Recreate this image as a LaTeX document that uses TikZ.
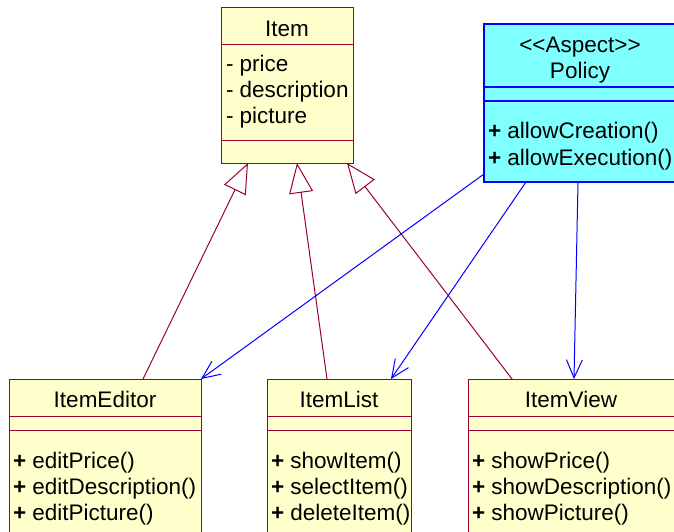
\documentclass[tikz,border=0pt]{standalone}
\usepackage{fontspec}
\setmainfont{Liberation Sans}
\usetikzlibrary{arrows.meta}

\begin{document}
\begin{tikzpicture}[x=1pt,y=-1pt,line cap=rect]
\useasboundingbox (0,0) rectangle (674,532);
\clip (0,0) rectangle (674,532);
\definecolor{custcol_99_0_33}{RGB}{153, 0, 51}
\definecolor{custcol_ff_ff_cc}{RGB}{255, 255, 204}
\definecolor{custcol_80_ff_ff}{RGB}{128, 255, 255}
\definecolor{custcol_0_0_ff}{RGB}{0, 0, 255}
\tikzset{
  clsbox/.style={draw=custcol_99_0_33, fill=custcol_ff_ff_cc, line width=1.0pt, inner sep=0, outer sep=0, anchor=north west},
  aspbox/.style={clsbox, draw=custcol_0_0_ff, fill=custcol_80_ff_ff, line width=1.5pt},
  clstext/.style={inner sep=0, outer sep=0, black, anchor=base west, font=\fontsize{22.5pt}{22.5pt}\selectfont},
  clsname/.style={clstext, anchor=base},
  inherit/.style={line width=1.0pt, custcol_99_0_33, -{Triangle[open, length=30pt, width=24pt]}},
  depend/.style={line width=1.0pt, custcol_0_0_ff, -{Straight Barb[length=18pt, width=16pt]}},
}
% Item
\node[clsbox, minimum width=132pt, minimum height=37pt] (itemhead) at (221,8) {};
\node[clsbox, minimum width=132pt, minimum height=95pt] (itemattr) at (221,45) {};
\node[clsbox, minimum width=132pt, minimum height=23pt] (itemops) at (221,140) {};
\node[clsname] (itemname) at (287,37) {Item};
\node[clstext] (itemprice) at (226,72) {- price};
\node[clstext] (itemdesc) at (226,98) {- description};
\node[clstext] (itempic) at (226,124) {- picture};
% Policy
\node[aspbox, minimum width=192pt, minimum height=63pt] (policyhead) at (484,24) {};
\node[aspbox, minimum width=192pt, minimum height=14pt] (policyattr) at (484,87) {};
\node[aspbox, minimum width=192pt, minimum height=81pt] (policyops) at (484,101) {};
\node[clsname] (policystereo) at (580,53) {<\kern0pt<Aspect>\kern0pt>};
\node[clsname] (policyname) at (580,79) {Policy};
\node[clstext] (policycreate) at (488,139) {\textbf{+} allowCreation()};
\node[clstext] (policyexec) at (488,165) {\textbf{+} allowExecution()};
% ItemEditor
\node[clsbox, minimum width=192pt, minimum height=37pt] (editorhead) at (9,379) {};
\node[clsbox, minimum width=192pt, minimum height=14pt] (editorattr) at (9,416) {};
\node[clsbox, minimum width=192pt, minimum height=110pt] (editorops) at (9,430) {};
\node[clsname] (editorname) at (105,407) {ItemEditor};
\node[clstext] (editorprice) at (13,468) {\textbf{+} editPrice()};
\node[clstext] (editordesc) at (13,494) {\textbf{+} editDescription()};
\node[clstext] (editorpic) at (13,520) {\textbf{+} editPicture()};
% ItemList
\node[clsbox, minimum width=144pt, minimum height=37pt] (listhead) at (267,379) {};
\node[clsbox, minimum width=144pt, minimum height=14pt] (listattr) at (267,416) {};
\node[clsbox, minimum width=144pt, minimum height=110pt] (listops) at (267,430) {};
\node[clsname] (listname) at (339,407) {ItemList};
\node[clstext] (listshow) at (271,468) {\textbf{+} showItem()};
\node[clstext] (listselect) at (271,494) {\textbf{+} selectItem()};
\node[clstext] (listdelete) at (271,520) {\textbf{+} deleteItem()};
% ItemView
\node[clsbox, minimum width=208pt, minimum height=37pt] (viewhead) at (468,379) {};
\node[clsbox, minimum width=208pt, minimum height=14pt] (viewattr) at (468,416) {};
\node[clsbox, minimum width=208pt, minimum height=110pt] (viewops) at (468,430) {};
\node[clsname] (viewname) at (571,407) {ItemView};
\node[clstext] (viewprice) at (472,468) {\textbf{+} showPrice()};
\node[clstext] (viewdesc) at (472,494) {\textbf{+} showDescription()};
\node[clstext] (viewpic) at (472,520) {\textbf{+} showPicture()};
% generalizations
\draw[inherit] ([xshift=38pt]editorhead.north) -- ([xshift=-39pt]itemops.south);
\draw[inherit] ([xshift=-12pt]listhead.north) -- ([xshift=10pt]itemops.south);
\draw[inherit] ([xshift=-60pt]viewhead.north) -- ([xshift=60pt]itemops.south);
% dependencies
\draw[depend] ([yshift=8pt]policyops.south west) -- (editorhead.north east);
\draw[depend] ([xshift=-54pt]policyops.south) -- ([xshift=52pt]listhead.north);
\draw[depend] ([xshift=-2pt]policyops.south) -- ([xshift=2pt]viewhead.north);
\end{tikzpicture}
\end{document}
